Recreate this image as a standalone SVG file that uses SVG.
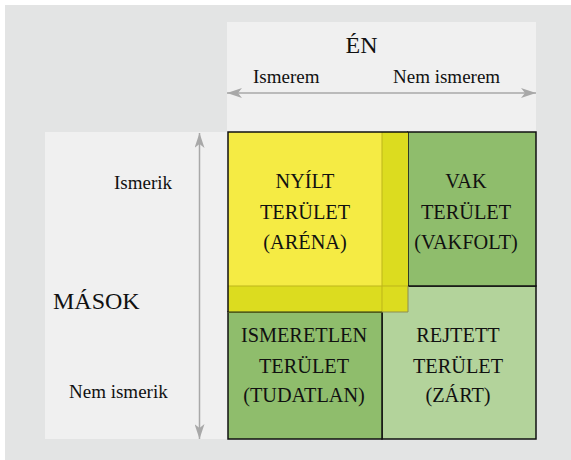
<svg xmlns="http://www.w3.org/2000/svg" width="571" height="460" viewBox="0 0 571 460">
<style>
text{fill:#111;}
.lab{font-size:19px;}
.big{font-size:24px;}
.q{font-size:20.3px;text-anchor:middle;}
.cell{stroke:#111;stroke-width:1.5;}
.arr{stroke:#a8a8a8;stroke-width:1.5;fill:none;}
</style>
<defs>
<marker id="ah" markerUnits="userSpaceOnUse" viewBox="0 0 15 10" refX="15" refY="5" markerWidth="15" markerHeight="10" orient="auto-start-reverse">
<path d="M0,0 L15,5 L0,10 L4,5 Z" fill="#a8a8a8"/>
</marker>
</defs>
<rect x="0" y="0" width="571" height="460" fill="#ffffff"/>
<rect x="5" y="5" width="566" height="455" fill="#e3e4e4"/>
<rect id="top-panel" x="227" y="22" width="309" height="110" fill="#f0f0f0"/>
<rect id="left-panel" x="45" y="132" width="183" height="307" fill="#f0f0f0"/>

<g font-family="Liberation Serif, DejaVu Serif, serif">
<g id="header-en">
<text class="big" x="361.5" y="53" text-anchor="middle">ÉN</text>
<text class="lab" x="253" y="82.5">Ismerem</text>
<text class="lab" x="393" y="82.5">Nem ismerem</text>
</g>
<g id="header-masok">
<text class="big" x="53" y="308.5">MÁSOK</text>
<text class="lab" x="114" y="188.5">Ismerik</text>
<text class="lab" x="69" y="397.5">Nem ismerik</text>
</g>

<g id="q-rejtett">
<rect class="cell" x="382" y="286" width="154" height="153" fill="#b3d39b"/>
<text class="q" x="458" y="342">REJTETT</text>
<text class="q" x="458" y="372.5">TERÜLET</text>
<text class="q" x="458" y="402">(ZÁRT)</text>
</g>
<g id="q-vak">
<rect class="cell" x="408" y="132" width="128" height="154" fill="#8fbd6c"/>
</g>
<g id="q-ismeretlen">
<rect class="cell" x="228" y="312" width="154" height="127" fill="#8fbd6c"/>
<text class="q" x="304" y="342">ISMERETLEN</text>
<text class="q" x="304" y="372.5">TERÜLET</text>
<text class="q" x="304" y="402">(TUDATLAN)</text>
</g>
<g id="q-nyilt">
<rect x="228" y="132" width="154" height="154" fill="#f5eb44"/>
<path d="M382,132 H408 V312 H228 V286 H382 Z" fill="#dcdc1f"/>
<line x1="382" y1="132" x2="382" y2="312" stroke="#bdb51a" stroke-width="1"/>
<line x1="228" y1="286" x2="408" y2="286" stroke="#bdb51a" stroke-width="1"/>
<line x1="228" y1="312" x2="382" y2="312" stroke="#5f6a1c" stroke-width="1.5"/>
<path d="M408,286 V312 H382" fill="none" stroke="#8d8d55" stroke-width="1"/>
<path d="M228,312 V132 H408" fill="none" stroke="#111" stroke-width="1.5"/>
<text class="q" x="305" y="188">NYÍLT</text>
<text class="q" x="305" y="218.5">TERÜLET</text>
<text class="q" x="305" y="248.5">(ARÉNA)</text>
</g>
<g id="q-vak-label">
<text class="q" x="466" y="188">VAK</text>
<text class="q" x="466" y="218.5">TERÜLET</text>
<text class="q" x="466" y="248.5">(VAKFOLT)</text>
</g>
</g>

<g id="connectors">
<line class="arr" x1="227" y1="93" x2="536" y2="93" marker-start="url(#ah)" marker-end="url(#ah)"/>
<line class="arr" x1="199.5" y1="133" x2="199.5" y2="439" marker-start="url(#ah)" marker-end="url(#ah)"/>
</g>
</svg>
